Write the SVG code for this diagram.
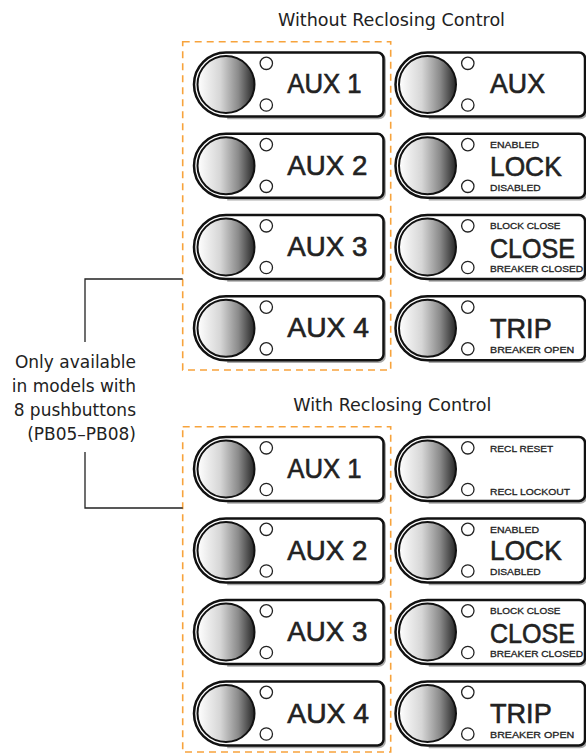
<svg xmlns="http://www.w3.org/2000/svg" xmlns:xlink="http://www.w3.org/1999/xlink" width="586" height="756" viewBox="0 0 586 756">
<style>
.title{font-family:"DejaVu Sans",Verdana,sans-serif;font-size:17.4px;fill:#222}
.note{font-family:"DejaVu Sans",Verdana,sans-serif;font-size:17px;fill:#222;text-anchor:end}
.big{font-family:"Liberation Sans",Arial,sans-serif;font-size:28px;fill:#222;stroke:#222;stroke-width:0.6}
.small{font-family:"Liberation Sans",Arial,sans-serif;font-size:9.5px;fill:#222;stroke:#222;stroke-width:0.3}
.dash{fill:none;stroke:#F7A33C;stroke-width:1.6;stroke-dasharray:7 5}
.line{fill:none;stroke:#222;stroke-width:1.3}
.outline{fill:#fff;stroke:#111;stroke-width:2.5}
.shadow{fill:none;stroke:#aaa;stroke-width:2.5}
.knob{fill:url(#grad);stroke:#111;stroke-width:2}
.led{fill:#fff;stroke:#222;stroke-width:1.3}
</style>
<defs>
<linearGradient id="grad" x1="0" y1="0" x2="1" y2="0">
<stop offset="0" stop-color="#ffffff"/>
<stop offset="0.4" stop-color="#d6d6d6"/>
<stop offset="0.72" stop-color="#8a8a8a"/>
<stop offset="1" stop-color="#262626"/>
</linearGradient>
<g id="panel">
<path class="shadow" d="M1.2,-30.5 H151.7 A6 6 0 0 1 158.7,-24.5 V27.5 A6 6 0 0 1 152.7,33.5 H1.2"/>
<path class="outline" d="M0,-32 H151.5 A6 6 0 0 1 157.5,-26 V26 A6 6 0 0 1 151.5,32 H0 A32 32 0 0 1 0,-32 Z"/>
<circle class="knob" cx="0" cy="0" r="28.5"/>
<circle class="led" cx="40.3" cy="-21.2" r="6.2"/>
<circle class="led" cx="40.3" cy="20.5" r="6.2"/>
</g>
</defs>

<text class="title" x="278" y="25.7" textLength="227" lengthAdjust="spacingAndGlyphs">Without Reclosing Control</text>
<text class="title" x="293.3" y="411" textLength="198" lengthAdjust="spacingAndGlyphs">With Reclosing Control</text>

<g id="note">
<text class="note" x="136" y="368">Only available</text>
<text class="note" x="136" y="392">in models with</text>
<text class="note" x="136" y="416">8 pushbuttons</text>
<text class="note" x="136" y="440">(PB05–PB08)</text>
</g>

<g id="groups">
<rect id="group-top" class="dash" x="182.7" y="41.7" width="208" height="328.3"/>
<rect id="group-bottom" class="dash" x="182.7" y="426.7" width="208" height="325.3"/>
</g>

<g id="connectors">
<polyline class="line" points="85,342 85,279 182.7,279"/>
<polyline class="line" points="85,452 85,508 182.7,508"/>
</g>

<g id="t-aux1"><use xlink:href="#panel" transform="translate(226,84.5)"/><text class="big" x="287.3" y="93.3" textLength="74.4" lengthAdjust="spacingAndGlyphs">AUX 1</text></g>
<g id="t-aux2"><use xlink:href="#panel" transform="translate(226,165.8)"/><text class="big" x="287.3" y="174.8" textLength="80" lengthAdjust="spacingAndGlyphs">AUX 2</text></g>
<g id="t-aux3"><use xlink:href="#panel" transform="translate(226,247)"/><text class="big" x="287.3" y="256" textLength="80" lengthAdjust="spacingAndGlyphs">AUX 3</text></g>
<g id="t-aux4"><use xlink:href="#panel" transform="translate(226,328.3)"/><text class="big" x="287.3" y="337.3" textLength="81.7" lengthAdjust="spacingAndGlyphs">AUX 4</text></g>

<g id="t-aux"><use xlink:href="#panel" transform="translate(427.5,84.5)"/><text class="big" x="490" y="93.3" textLength="55" lengthAdjust="spacingAndGlyphs">AUX</text></g>
<g id="t-lock"><use xlink:href="#panel" transform="translate(427.5,165.8)"/>
<text class="small" x="490" y="148.3" textLength="49" lengthAdjust="spacingAndGlyphs">ENABLED</text>
<text class="big" x="490" y="175.7" textLength="71.7" lengthAdjust="spacingAndGlyphs">LOCK</text>
<text class="small" x="490" y="190.6" textLength="50.7" lengthAdjust="spacingAndGlyphs">DISABLED</text></g>
<g id="t-close"><use xlink:href="#panel" transform="translate(427.5,247)"/>
<text class="small" x="490" y="229.3" textLength="70.5" lengthAdjust="spacingAndGlyphs">BLOCK CLOSE</text>
<text class="big" x="490" y="257.5" textLength="85" lengthAdjust="spacingAndGlyphs">CLOSE</text>
<text class="small" x="490" y="271.7" textLength="93" lengthAdjust="spacingAndGlyphs">BREAKER CLOSED</text></g>
<g id="t-trip"><use xlink:href="#panel" transform="translate(427.5,328.3)"/>
<text class="big" x="490" y="338.1" textLength="61.7" lengthAdjust="spacingAndGlyphs">TRIP</text>
<text class="small" x="490" y="353.1" textLength="84.3" lengthAdjust="spacingAndGlyphs">BREAKER  OPEN</text></g>

<g id="b-aux1"><use xlink:href="#panel" transform="translate(226,469)"/><text class="big" x="287.3" y="478" textLength="74.4" lengthAdjust="spacingAndGlyphs">AUX 1</text></g>
<g id="b-aux2"><use xlink:href="#panel" transform="translate(226,550.5)"/><text class="big" x="287.3" y="559.5" textLength="80" lengthAdjust="spacingAndGlyphs">AUX 2</text></g>
<g id="b-aux3"><use xlink:href="#panel" transform="translate(226,632)"/><text class="big" x="287.3" y="641" textLength="80" lengthAdjust="spacingAndGlyphs">AUX 3</text></g>
<g id="b-aux4"><use xlink:href="#panel" transform="translate(226,713.5)"/><text class="big" x="287.3" y="722.5" textLength="81.7" lengthAdjust="spacingAndGlyphs">AUX 4</text></g>

<g id="b-recl"><use xlink:href="#panel" transform="translate(427.5,469)"/>
<text class="small" x="490" y="451.7" textLength="63.3" lengthAdjust="spacingAndGlyphs">RECL RESET</text>
<text class="small" x="490" y="495" textLength="80" lengthAdjust="spacingAndGlyphs">RECL LOCKOUT</text></g>
<g id="b-lock"><use xlink:href="#panel" transform="translate(427.5,550.5)"/>
<text class="small" x="490" y="533" textLength="49" lengthAdjust="spacingAndGlyphs">ENABLED</text>
<text class="big" x="490" y="560.4" textLength="71.7" lengthAdjust="spacingAndGlyphs">LOCK</text>
<text class="small" x="490" y="575.3" textLength="50.7" lengthAdjust="spacingAndGlyphs">DISABLED</text></g>
<g id="b-close"><use xlink:href="#panel" transform="translate(427.5,632)"/>
<text class="small" x="490" y="614.3" textLength="70.5" lengthAdjust="spacingAndGlyphs">BLOCK CLOSE</text>
<text class="big" x="490" y="642.8" textLength="85" lengthAdjust="spacingAndGlyphs">CLOSE</text>
<text class="small" x="490" y="656.7" textLength="93" lengthAdjust="spacingAndGlyphs">BREAKER CLOSED</text></g>
<g id="b-trip"><use xlink:href="#panel" transform="translate(427.5,713.5)"/>
<text class="big" x="490" y="723.3" textLength="61.7" lengthAdjust="spacingAndGlyphs">TRIP</text>
<text class="small" x="490" y="738.3" textLength="84.3" lengthAdjust="spacingAndGlyphs">BREAKER  OPEN</text></g>
</svg>
